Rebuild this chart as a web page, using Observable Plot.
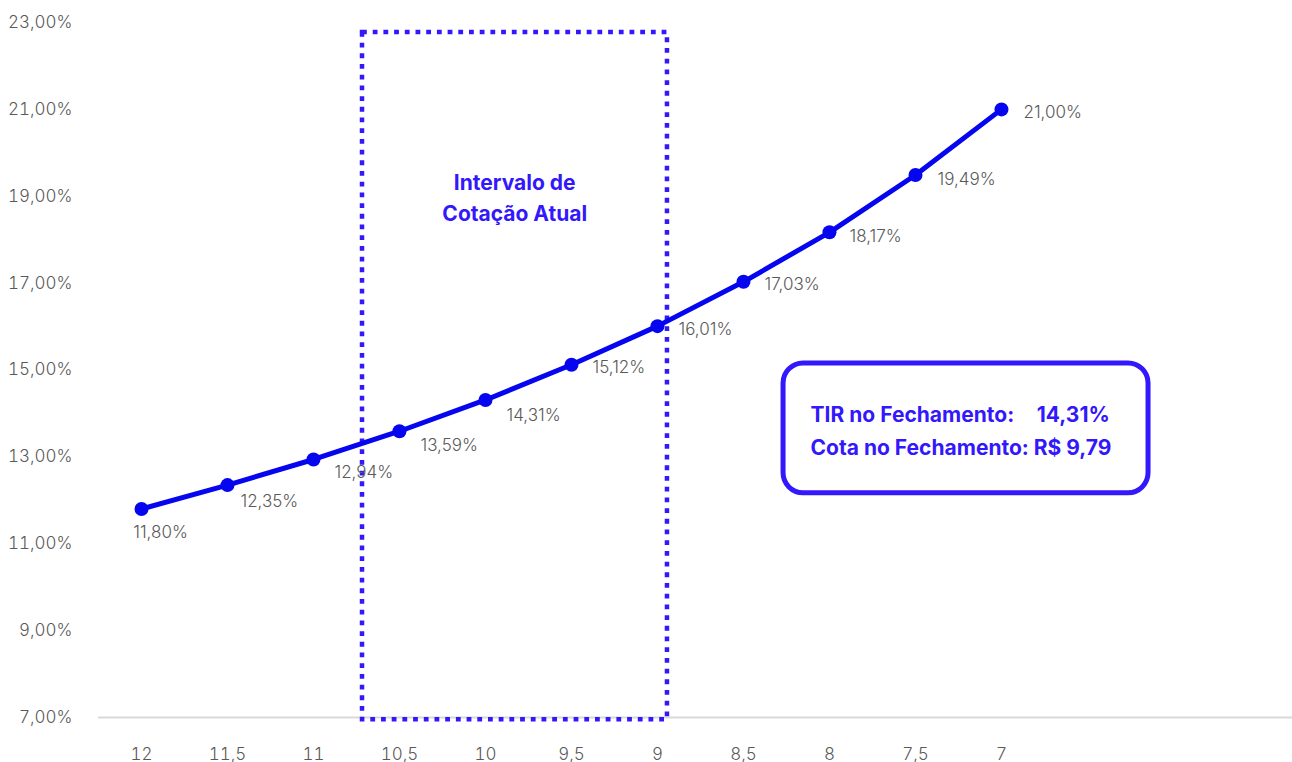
<!DOCTYPE html>
<html>
<head>
<meta charset="utf-8">
<script src="https://cdn.jsdelivr.net/npm/d3@7"></script>
<script src="https://cdn.jsdelivr.net/npm/@observablehq/plot@0.6"></script>
<style>
  html, body { margin: 0; padding: 0; background: #fff; }
  #chart svg { display: block; }
</style>
</head>
<body>
<div id="chart"></div>
<script>
// ---- data ----
const cotas = [12, 11.5, 11, 10.5, 10, 9.5, 9, 8.5, 8, 7.5, 7];
const tir = [11.80, 12.35, 12.94, 13.59, 14.31, 15.12, 16.01, 17.03, 18.17, 19.49, 21.00];
const yTicks = [7, 9, 11, 13, 15, 17, 19, 21, 23];
const xTicks = [12, 11.5, 11, 10.5, 10, 9.5, 9, 8.5, 8, 7.5, 7];
const intervaloTexto = "Intervalo de\nCotação Atual";
const intervalo = [{x1: 10.715, x2: 8.942, y1: 6.95, y2: 22.77}];
const caixa = [{x1: 8.267, x2: 6.145, y1: 12.16, y2: 15.15}];
const caixaLinha1 = "TIR no Fechamento:";
const caixaValor1 = "14,31%";
const caixaLinha2 = "Cota no Fechamento: R$ 9,79";

// label placement (layout only)
const labelDx = [19, 13, 21, 21, 21, 21, 21, 21, 20, 22, 22];
const labelDy = [24, 16, 13, 14, 16, 3, 3, 3, 4, 5, 3];

const data = cotas.map((c, i) => ({cota: c, tir: tir[i]}));
const fmtPct = v => v.toFixed(2).replace(".", ",") + "%";
const fmtNum = v => String(v).replace(".", ",");

const BLUE = "#0505ef";
const ANN = "#3218fb";
const GRAY = "#595959";

const labelMarks = data.map((d, i) => Plot.text([d], {
  x: "cota", y: "tir", text: dd => fmtPct(dd.tir),
  dx: labelDx[i], dy: labelDy[i],
  textAnchor: i === 0 ? "middle" : "start",
  fill: GRAY, fontSize: 17, fontWeight: 300
}));

const chart = Plot.plot({
  width: 1292,
  height: 762,
  marginLeft: 98,
  marginRight: 0,
  marginTop: 22,
  marginBottom: 45,
  style: {fontFamily: "Inter, 'Noto Sans', sans-serif", background: "#fff", overflow: "visible"},
  x: {domain: [12.25, 5.308], range: [98, 1292]},
  y: {domain: [7, 23]},
  marks: [
    Plot.ruleY([7], {stroke: "#d9d9d9", strokeWidth: 2}),
    Plot.axisY({ticks: yTicks, tickFormat: fmtPct, tickSize: 0, tickPadding: 26,
      fontSize: 17, fontWeight: 300, color: GRAY, label: null}),
    Plot.axisX({ticks: xTicks, tickFormat: fmtNum, tickSize: 0, tickPadding: 30,
      fontSize: 17, fontWeight: 300, color: GRAY, label: null}),
    Plot.rect(intervalo, {x1: "x1", x2: "x2", y1: "y1", y2: "y2",
      fill: "none", stroke: ANN, strokeWidth: 4.5, strokeDasharray: "4.8 5.9"}),
    Plot.line(data, {x: "cota", y: "tir", stroke: BLUE, strokeWidth: 5}),
    Plot.dot(data, {x: "cota", y: "tir", r: 7, fill: BLUE, stroke: "none"}),
    ...labelMarks,
    Plot.text([intervaloTexto], {x: 9.83, y: 19.01, text: d => d, fill: ANN,
      fontSize: 21, fontWeight: 700, lineHeight: 1.48, textAnchor: "middle"}),
    Plot.rect(caixa, {x1: "x1", x2: "x2", y1: "y1", y2: "y2", rx: 20,
      fill: "none", stroke: ANN, strokeWidth: 5}),
    Plot.text([caixaLinha1], {x: 8.11, y: 13.95, text: d => d, fill: ANN,
      fontSize: 21, fontWeight: 700, textAnchor: "start"}),
    Plot.text([caixaValor1], {x: 6.795, y: 13.95, text: d => d, fill: ANN,
      fontSize: 21, fontWeight: 700, textAnchor: "start"}),
    Plot.text([caixaLinha2], {x: 8.11, y: 13.2, text: d => d, fill: ANN,
      fontSize: 21, fontWeight: 700, textAnchor: "start"})
  ]
});
document.getElementById("chart").appendChild(chart);
</script>
</body>
</html>
